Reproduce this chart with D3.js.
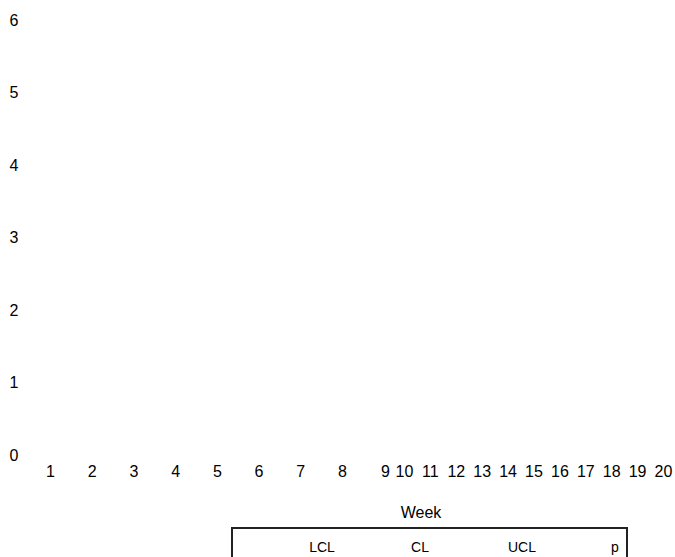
<!DOCTYPE html>
<html>
<head>
<meta charset="utf-8">
<script src="https://cdn.jsdelivr.net/npm/d3@7/dist/d3.min.js"></script>
<style>
  html, body { margin: 0; padding: 0; background: #fff; }
  text { font-family: "Liberation Sans", Arial, sans-serif; }
</style>
</head>
<body>
<script>
// ---- data ----
const weeks = [1, 2, 3, 4, 5, 6, 7, 8, 9, 10, 11, 12, 13, 14, 15, 16, 17, 18, 19, 20];
const yTicks = [0, 1, 2, 3, 4, 5, 6];
const seriesNames = ["LCL", "CL", "UCL", "p"];
// series values (the reference chart shows no plotted values)
const lclValues = [];
const clValues = [];
const uclValues = [];
const pValues = [];
const xTitle = "Week";

// ---- layout ----
const W = 675, H = 557;
const svg = d3.select("body").append("svg")
  .attr("width", W).attr("height", H)
  .style("display", "block");
svg.append("rect").attr("width", W).attr("height", H).attr("fill", "#fff");

const y = d3.scaleLinear().domain([0, 6]).range([455, 20]);
// uneven label spacing as in the reference
const x = d3.scaleLinear().domain([1, 8, 9, 10, 20]).range([50, 342, 385, 404, 663]);

const fs = 16;
// y axis
const yAxis = d3.axisLeft(y).tickValues(yTicks).tickSize(0).tickPadding(0).tickFormat(d3.format("d"));
const gy = svg.append("g").attr("transform", "translate(20,0)").call(yAxis);
gy.select(".domain").remove();
gy.selectAll("text").attr("x", -6).attr("text-anchor", "middle")
  .style("font-size", fs + "px").attr("fill", "#000").attr("font-family", "Liberation Sans, Arial, sans-serif");

// x axis
const xAxis = d3.axisBottom(x).tickValues(weeks).tickSize(0).tickPadding(0).tickFormat(d3.format("d"));
const gx = svg.append("g").attr("transform", "translate(0,466)").call(xAxis);
gx.select(".domain").remove();
gx.selectAll("text").attr("dy", "0.71em")
  .style("font-size", fs + "px").attr("fill", "#000").attr("font-family", "Liberation Sans, Arial, sans-serif");

// x title
svg.append("text").attr("x", 421).attr("y", 518).attr("text-anchor", "middle")
  .style("font-size", fs + "px").attr("fill", "#000").text(xTitle);

// series lines (empty data)
const line = d3.line().x((d, i) => x(weeks[i])).y(d => y(d));
[lclValues, clValues, uclValues, pValues].forEach(vals => {
  if (vals.length) svg.append("path").attr("d", line(vals)).attr("fill", "none").attr("stroke", "#000");
});

// legend
const lg = svg.append("g");
lg.append("rect").attr("x", 232).attr("y", 528).attr("width", 395).attr("height", 60)
  .attr("fill", "none").attr("stroke", "#222").attr("stroke-width", 2);
const legendX = [322, 420, 522, 615];
lg.selectAll("text.leg").data(seriesNames).join("text")
  .attr("class", "leg")
  .attr("x", (d, i) => legendX[i])
  .attr("y", 552).attr("text-anchor", "middle")
  .style("font-size", "14px").attr("fill", "#000").text(d => d);
</script>
</body>
</html>
